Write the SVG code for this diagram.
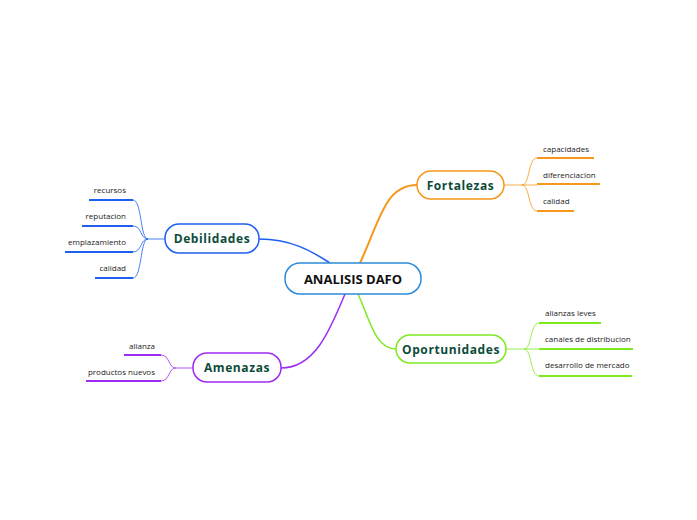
<svg xmlns="http://www.w3.org/2000/svg" width="697" height="520" viewBox="0 0 697 520">
<style>
.n{fill:#fff;stroke-width:1.5}
.t{font-family:"Open Sans","Noto Sans",sans-serif;font-weight:bold;font-size:12px;fill:#0d4b3b;text-anchor:middle;letter-spacing:0.6px}
.l{font-family:"Open Sans","Noto Sans",sans-serif;font-size:8px;fill:#222}
.r{text-anchor:end}
path{fill:none}
</style>
<rect width="697" height="520" fill="#fff"/>
<g id="connectors">
<path d="M360 263 C380 220 385 185 417 185" stroke="#f7971b" stroke-width="2"/>
<path d="M358 294 C370 320 375 349 396 349" stroke="#7cea1f" stroke-width="1.5"/>
<path d="M330 263 C310 250 290 239 259 239" stroke="#1d5ff0" stroke-width="1.5"/>
<path d="M345 294 C330 330 315 368 281 368" stroke="#9d2cf0" stroke-width="1.5"/>
<g stroke="#f7971b" stroke-width="0.8"><path d="M504 185 H522 C530 185 528 158 537 158"/><path d="M522 185 H537"/><path d="M522 185 C530 185 528 211 537 211"/></g>
<g stroke="#f7971b" stroke-width="2"><path d="M537 158 H594"/><path d="M537 184 H600"/><path d="M537 211 H574"/></g>
<g stroke="#7cea1f" stroke-width="0.8"><path d="M506 349 H524 C532 349 530 323 539 323"/><path d="M524 349 H539"/><path d="M524 349 C532 349 530 376 539 376"/></g>
<g stroke="#7cea1f" stroke-width="2"><path d="M539 323 H601"/><path d="M539 349 H633"/><path d="M539 376 H632"/></g>
<g stroke="#1d5ff0" stroke-width="0.8"><path d="M165 239 H148 C140 239 142 200 133 200"/><path d="M148 239 C140 239 142 226 133 226"/><path d="M148 239 C140 239 142 252 133 252"/><path d="M148 239 C140 239 142 278 133 278"/></g>
<g stroke="#1d5ff0" stroke-width="2"><path d="M89 200 H133"/><path d="M82 226 H133"/><path d="M65 252 H133"/><path d="M95 278 H133"/></g>
<g stroke="#9d2cf0" stroke-width="0.8"><path d="M193 368 H176 C168 368 170 355 161 355"/><path d="M176 368 C168 368 170 381 161 381"/></g>
<g stroke="#9d2cf0" stroke-width="2"><path d="M124 355 H161"/><path d="M86 381 H161"/></g>
</g>
<g id="center"><rect x="285" y="263" width="136" height="31" rx="15" class="n" stroke="#2d8ad8"/><text x="353" y="283.5" class="t" style="fill:#111;font-size:13px;letter-spacing:0">ANALISIS DAFO</text></g>
<g id="fortalezas"><rect x="417" y="171" width="87" height="28" rx="14" class="n" stroke="#f7971b"/><text x="460.5" y="189.5" class="t">Fortalezas</text></g>
<g id="oportunidades"><rect x="396" y="335" width="110" height="28" rx="14" class="n" stroke="#7cea1f"/><text x="451" y="353.5" class="t">Oportunidades</text></g>
<g id="debilidades"><rect x="165" y="224" width="94" height="29" rx="14" class="n" stroke="#1d5ff0"/><text x="212" y="243" class="t">Debilidades</text></g>
<g id="amenazas"><rect x="193" y="353" width="88" height="29" rx="14" class="n" stroke="#9d2cf0"/><text x="237" y="372" class="t">Amenazas</text></g>
<g id="leaves">
<text x="543" y="152" class="l">capacidades</text>
<text x="543" y="178" class="l">diferenciacion</text>
<text x="543" y="204" class="l">calidad</text>
<text x="545" y="316" class="l">alianzas leves</text>
<text x="545" y="342" class="l">canales de distribucion</text>
<text x="545" y="368" class="l">desarrollo de mercado</text>
<text x="126" y="193" class="l r">recursos</text>
<text x="126" y="219" class="l r">reputacion</text>
<text x="126" y="245" class="l r">emplazamiento</text>
<text x="126" y="271" class="l r">calidad</text>
<text x="155" y="349" class="l r">alianza</text>
<text x="155" y="375" class="l r">productos nuevos</text>
</g>
</svg>
